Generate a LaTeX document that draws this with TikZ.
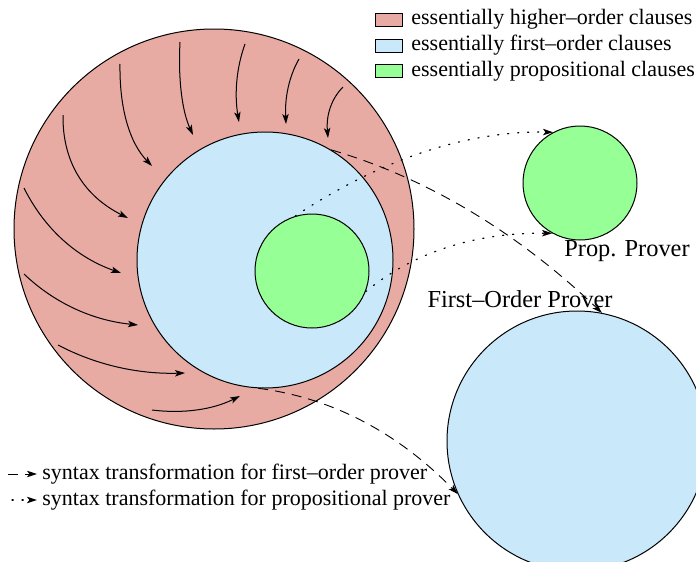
\documentclass[tikz,border=0pt]{standalone}
\usepackage{fontspec}
\setmainfont{Liberation Serif}
\usetikzlibrary{arrows.meta,calc}
\definecolor{hoclr}{rgb}{0.91,0.67,0.64}
\definecolor{foclr}{rgb}{0.79,0.91,0.98}
\definecolor{propclr}{rgb}{0.59,1,0.59}

\begin{document}
\begin{tikzpicture}[x=0.5pt,y=-0.5pt,
    >={Stealth[length=5pt,width=3.2pt,inset=1.2pt]},
    disc/.style={circle,draw,line width=0.5pt,inner sep=0pt},
    spiral/.style={->,line width=0.5pt},
    fotrans/.style={->,dash pattern=on 5pt off 3.5pt,line width=0.45pt},
    proptrans/.style={->,dash pattern=on 0.6pt off 4.4pt,line cap=round,line width=0.6pt},
    keybox/.style={draw,line width=0.5pt,minimum width=13.5pt,minimum height=6.5pt,inner sep=0pt},
    txt/.style={font=\fontsize{11}{13}\selectfont,inner sep=0pt},
    bigtxt/.style={font=\fontsize{12.2}{14}\selectfont,inner sep=0pt}]
    \useasboundingbox (0,0) rectangle (696,562);
    \clip (0,0) rectangle (696,562);
    % clause sets
    \node[disc,fill=hoclr,minimum size=200pt] (ho) at (214,229) {};
    \node[disc,fill=foclr,minimum size=128pt] (fo) at (265,260) {};
    \node[disc,fill=propclr,minimum size=57pt] (prop) at (312,271) {};
    % provers
    \node[disc,fill=propclr,minimum size=57pt] (pp) at (580,183) {};
    \node[disc,fill=foclr,minimum size=130pt] (fop) at (577,441) {};
    \node[bigtxt] (pplabel) at (627,251) {Prop. Prover};
    \node[bigtxt] (foplabel) at (520,299) {First--Order Prover};
    % higher-order clauses drifting inwards
    \foreach \ax/\ay/\cx/\cy/\bx/\by in {120/64/119/132/152/166, 180/42/177/100/193/135,
        245/44/232/80/239/122, 299/59/284/85/286/124, 343/87/325/105/328/138,
        63/115/62/185/128/218, 24/188/55/250/121/273, 24/274/70/318/138/325,
        58/345/115/375/185/373, 152/410/200/416/240/396}
        \draw[spiral] (\ax,\ay) .. controls ($(\ax,\ay)!2/3!(\cx,\cy)$) and ($(\bx,\by)!2/3!(\cx,\cy)$) .. (\bx,\by);
    % transformations
    \draw[fotrans] (fo.59) .. controls ($(fo.59)!2/3!(475,192)$) and ($(fop.79)!2/3!(475,192)$) .. (fop.79);
    \draw[fotrans] (fo.267) .. controls ($(fo.267)!2/3!(368,402)$) and ($(fop.204)!2/3!(368,402)$) .. (fop.204);
    \draw[proptrans] (prop.107) .. controls ($(prop.107)!2/3!(425,130)$) and ($(pp.118)!2/3!(425,130)$) .. (pp.118);
    \draw[proptrans] (prop.-21) .. controls ($(prop.-21)!2/3!(438,232)$) and ($(pp.241)!2/3!(438,232)$) .. (pp.241);
    % legend
    \node[keybox,fill=hoclr] (hokey) at (388.5,19.5) {};
    \node[keybox,fill=foclr] (fokey) at (388.5,45.5) {};
    \node[keybox,fill=propclr] (propkey) at (388.5,71) {};
    \node[txt,anchor=west] (hotxt) at (411,19.5) {essentially higher--order clauses};
    \node[txt,anchor=west] (fotxt) at (411,45.5) {essentially first--order clauses};
    \node[txt,anchor=west] (proptxt) at (411,71) {essentially propositional clauses};
    \node[txt,anchor=west] (fotranstxt) at (42,474) {syntax transformation for first--order prover};
    \node[txt,anchor=west] (proptranstxt) at (42,500) {syntax transformation for propositional prover};
    \coordinate (fokeya) at (8,474);
    \coordinate (propkeya) at (12,500);
    \draw[fotrans,shorten >=2.5pt] (fokeya) -- (fotranstxt.west);
    \draw[proptrans,shorten >=2.5pt] (propkeya) -- (proptranstxt.west);
\end{tikzpicture}
\end{document}
